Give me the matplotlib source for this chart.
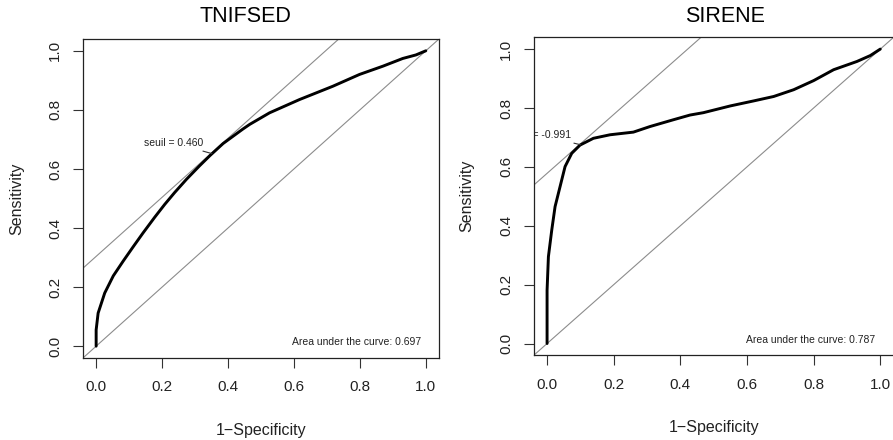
import matplotlib
matplotlib.use("Agg")
import matplotlib.pyplot as plt

plt.rcParams["font.family"] = ["Liberation Sans", "DejaVu Sans"]

# ROC curves (1-specificity, sensitivity)
tnifsed_fpr = [0.0, 0.0, 0.0, 0.006, 0.026, 0.052, 0.082, 0.112, 0.142, 0.178,
               0.208, 0.238, 0.274, 0.314, 0.345, 0.385, 0.445, 0.466, 0.526,
               0.617, 0.718, 0.799, 0.870, 0.930, 0.970, 1.0]
tnifsed_tpr = [0.0, 0.010, 0.055, 0.112, 0.180, 0.238, 0.288, 0.336, 0.383, 0.437,
               0.480, 0.520, 0.565, 0.611, 0.645, 0.686, 0.735, 0.751, 0.790,
               0.835, 0.880, 0.920, 0.948, 0.974, 0.986, 1.0]

sirene_fpr = [0.0, 0.0, 0.004, 0.014, 0.024, 0.039, 0.054, 0.074, 0.099, 0.139,
              0.189, 0.259, 0.309, 0.379, 0.429, 0.469, 0.550, 0.620, 0.680,
              0.740, 0.800, 0.860, 0.930, 0.970, 1.0]
sirene_tpr = [0.0, 0.181, 0.295, 0.385, 0.465, 0.533, 0.601, 0.646, 0.674, 0.697,
              0.709, 0.718, 0.737, 0.760, 0.776, 0.784, 0.807, 0.824, 0.839,
              0.862, 0.893, 0.930, 0.958, 0.978, 1.0]

panels = [
    dict(title="TNIFSED", fpr=tnifsed_fpr, tpr=tnifsed_tpr, auc=0.697,
         thres="seuil = 0.460", pt=(0.351, 0.652), offset=0.304,
         txt=(0.325, 0.688), pos=[0.0929, 0.1864, 0.3987, 0.7250], title_x=245),
    dict(title="SIRENE", fpr=sirene_fpr, tpr=sirene_tpr, auc=0.787,
         thres="seuil = -0.991", pt=(0.101, 0.675), offset=0.578,
         txt=(0.073, 0.708), pos=[0.5977, 0.1925, 0.4030, 0.7227], title_x=725),
]

fig = plt.figure(figsize=(8.93, 4.40), dpi=100)
GRAY = "#8c8c8c"

for p in panels:
    ax = fig.add_axes(p["pos"])
    ax.set_xlim(-0.04, 1.04)
    ax.set_ylim(-0.04, 1.04)

    # chance diagonal and tangent at best threshold
    ax.axline((0, 0), slope=1, color=GRAY, lw=0.8, zorder=1)
    ax.axline((0, p["offset"]), slope=1, color=GRAY, lw=0.8, zorder=1)

    ax.plot(p["fpr"], p["tpr"], color="black", lw=2.1, zorder=3,
            solid_capstyle="round", solid_joinstyle="round")

    ax.annotate(p["thres"], xy=p["pt"], xytext=p["txt"], textcoords="data",
                ha="right", va="center", fontsize=7.5, color="#222222",
                clip_on=True, annotation_clip=False,
                arrowprops=dict(arrowstyle="-", color="#333333", lw=0.8,
                                shrinkA=1, shrinkB=0))

    ax.text(0.985, 0.013, f"Area under the curve: {p['auc']:.3f}",
            ha="right", va="center", fontsize=7.5, color="#222222")

    ticks = [0.0, 0.2, 0.4, 0.6, 0.8, 1.0]
    ax.set_xticks(ticks)
    ax.set_yticks(ticks)
    ax.set_xticklabels([f"{t:.1f}" for t in ticks])
    ax.set_yticklabels([f"{t:.1f}" for t in ticks], rotation=90, va="center")
    ax.tick_params(length=7, width=0.8, labelsize=11, colors="#333333",
                   labelcolor="#222222")
    ax.tick_params(axis="x", pad=9)
    ax.tick_params(axis="y", pad=8)
    for s in ax.spines.values():
        s.set_color("#222222")
        s.set_linewidth(0.9)

    ax.set_xlabel("1\u2212Specificity", fontsize=11.5, color="#222222")
    ax.set_ylabel("Sensitivity", fontsize=11.5, color="#222222")
    ax.xaxis.set_label_coords(0.5, -0.226)
    ax.xaxis.label.set_va("center")
    ax.yaxis.set_label_coords(-0.186, 0.5)
    ax.yaxis.label.set_va("center")

    fig.text(p["title_x"] / 893, 1 - 17 / 440, p["title"], ha="center",
             va="center", fontsize=15.5, color="black")

fig.savefig("out.png", dpi=100)
